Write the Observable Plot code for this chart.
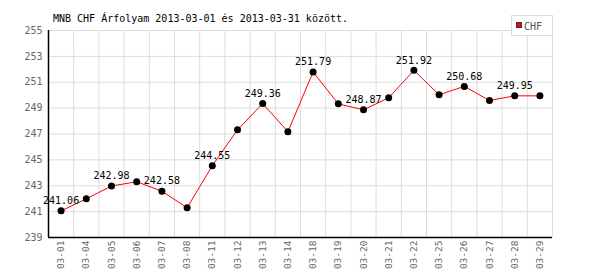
<!DOCTYPE html>
<html>
<head>
<meta charset="utf-8">
<script src="https://cdn.jsdelivr.net/npm/d3@7"></script>
<script src="https://cdn.jsdelivr.net/npm/@observablehq/plot@0.6"></script>
<style>
  body { margin: 0; background: white; }
</style>
</head>
<body>
<div id="chart"></div>
<script>
const title = "MNB CHF Árfolyam 2013-03-01 és 2013-03-31 között.";
const seriesName = "CHF";
const dates = ["03-01","03-04","03-05","03-06","03-07","03-08","03-11","03-12","03-13","03-14",
               "03-18","03-19","03-20","03-21","03-22","03-25","03-26","03-27","03-28","03-29"];
const values = [241.06,241.99,242.98,243.31,242.58,241.30,244.55,247.32,249.36,247.17,
                251.79,249.33,248.87,249.80,251.92,250.03,250.68,249.59,249.95,249.95];
const yTicks = [239,241,243,245,247,249,251,253,255];
const labeledIdx = [0,2,4,6,8,10,12,14,16,18];

const idx = d3.range(dates.length);
const bounds = d3.range(dates.length + 1).map(i => i - 0.5);

const chart = Plot.plot({
  width: 600,
  height: 270,
  marginLeft: 48,
  marginRight: 48,
  marginTop: 30,
  marginBottom: 33,
  style: { fontFamily: "'DejaVu Sans Mono', monospace", fontSize: "10px", background: "white", color: "#666" },
  x: { domain: [-0.5, dates.length - 0.5], ticks: idx, tickFormat: i => dates[i], tickRotate: -90, tickSize: 0, tickPadding: 3, label: null },
  y: { domain: [239, 255], ticks: yTicks, tickFormat: d => String(d), tickSize: 0, tickPadding: 6, label: null },
  marks: [
    Plot.ruleY(yTicks, { stroke: "#dcdcdc" }),
    Plot.ruleX(bounds, { stroke: "#dcdcdc" }),
    Plot.ruleX([-0.5], { stroke: "black", strokeWidth: 1.5 }),
    Plot.ruleY([239], { stroke: "black", strokeWidth: 1.5 }),
    Plot.line(idx, { x: i => i, y: i => values[i], stroke: "red", strokeWidth: 1 }),
    Plot.dot(idx, { x: i => i, y: i => values[i], r: 3.5, fill: "black" }),
    Plot.text(labeledIdx, { x: i => i, y: i => values[i], text: i => values[i].toFixed(2), dy: -10, fill: "black", fontSize: 10 })
  ]
});

const svg = d3.select(chart);
svg.selectAll('g[aria-label="x-axis tick label"]').attr("font-size", 9.5);
svg.append("text").attr("x", 53).attr("y", 22).attr("fill", "black").attr("text-anchor", "start")
  .attr("font-family", "'DejaVu Sans Mono', monospace").attr("font-size", 10).text(title);
const lg = svg.append("g");
lg.append("rect").attr("x", 511.5).attr("y", 15.5).attr("width", 41).attr("height", 20)
  .attr("fill", "white").attr("stroke", "#dcdcdc");
lg.append("rect").attr("x", 516.5).attr("y", 22.5).attr("width", 5).attr("height", 5)
  .attr("fill", "red").attr("stroke", "#333");
lg.append("text").attr("x", 524).attr("y", 29.5).attr("fill", "#555").attr("text-anchor", "start")
  .attr("font-family", "'DejaVu Sans Mono', monospace").attr("font-size", 10).text(seriesName);

document.getElementById("chart").appendChild(chart);
</script>
</body>
</html>
